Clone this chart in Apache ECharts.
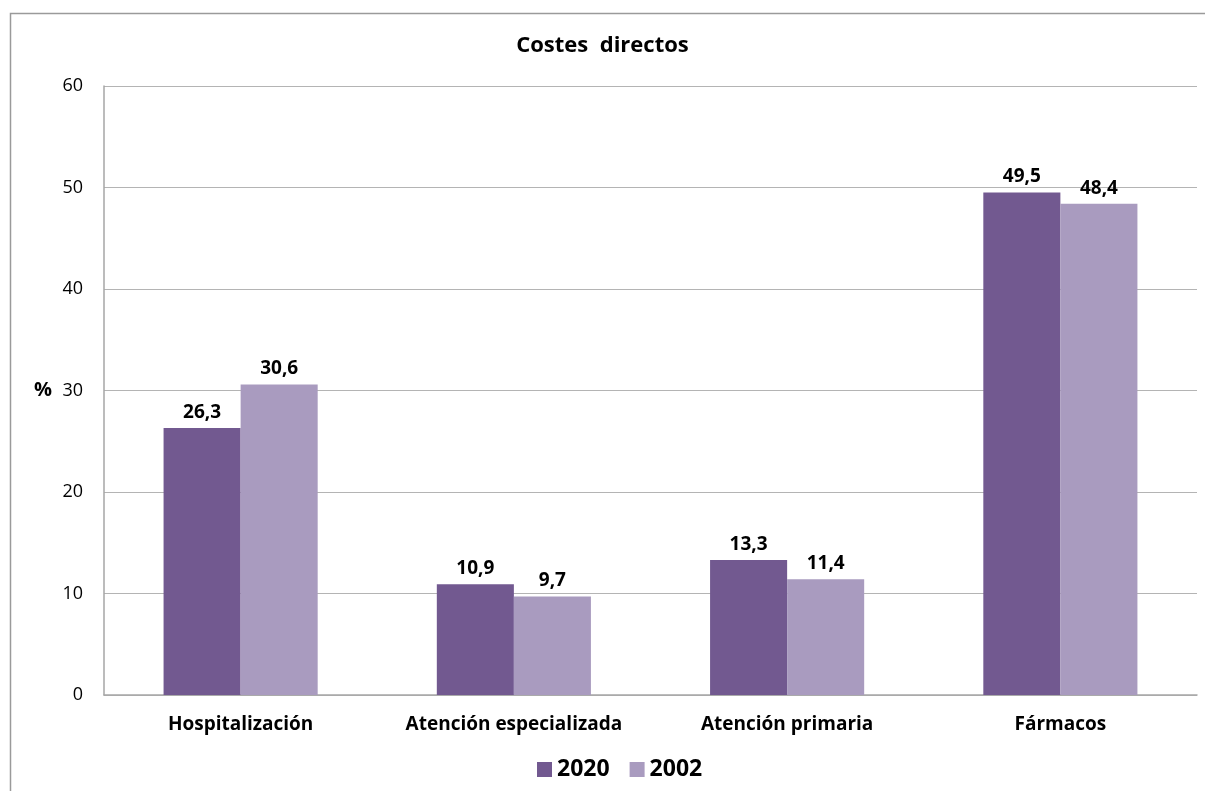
<!DOCTYPE html>
<html>
<head>
<meta charset="utf-8">
<script src="https://cdn.jsdelivr.net/npm/echarts@6/dist/echarts.min.js"></script>
<style>
html,body{margin:0;padding:0;background:#fff;}
#chart{width:1205px;height:791px;}
</style>
</head>
<body>
<div id="chart"></div>
<script>
const categories = ['Hospitalización', 'Atención especializada', 'Atención primaria', 'Fármacos'];
const series2020 = [26.3, 10.9, 13.3, 49.5];
const series2002 = [30.6, 9.7, 11.4, 48.4];
const seriesNames = ['2020', '2002'];

const FONT = '"Open Sans", Lato, sans-serif';
const fmt = p => String(p.value).replace('.', ',');

const chart = echarts.init(document.getElementById('chart'));
chart.setOption({
  animation: false,
  backgroundColor: '#ffffff',
  textStyle: { fontFamily: FONT },
  graphic: [{
    type: 'rect',
    shape: { x: 10.5, y: 13.5, width: 1400, height: 1000 },
    style: { fill: 'none', stroke: '#9a9a9a', lineWidth: 1.5 },
    silent: true, z: -10
  }],
  title: {
    text: 'Costes  directos',
    left: 'center',
    top: 30,
    textStyle: { fontFamily: FONT, fontWeight: 'bold', fontSize: 22, color: '#000' }
  },
  legend: {
    bottom: 5,
    left: 532,
    itemWidth: 15,
    itemHeight: 15,
    itemGap: 20,
    icon: 'rect',
    textStyle: { fontFamily: FONT, fontWeight: 'bold', fontSize: 23, color: '#000' },
    data: seriesNames
  },
  grid: { left: 104, right: 8, top: 86, bottom: 96 },
  xAxis: {
    type: 'category',
    data: categories,
    axisLine: { show: true, lineStyle: { color: '#a6a6a6', width: 1.5 } },
    axisTick: { show: false },
    axisLabel: { interval: 0, hideOverlap: false, fontFamily: FONT, fontWeight: 'bold', fontSize: 19, color: '#000', margin: 20 }
  },
  yAxis: {
    type: 'value',
    min: 0, max: 60, interval: 10,
    name: '%',
    nameLocation: 'middle',
    nameRotate: 0,
    nameGap: 52,
    nameTextStyle: { fontFamily: FONT, fontWeight: 'bold', fontSize: 20, color: '#000', align: 'right' },
    axisLine: { show: true, lineStyle: { color: '#a6a6a6', width: 1.5 } },
    axisTick: { show: false },
    splitLine: { show: true, lineStyle: { color: '#b4b4b4', width: 1.2 } },
    axisLabel: { fontFamily: FONT, fontSize: 18, color: '#000', margin: 21 }
  },
  series: [
    {
      name: seriesNames[0], type: 'bar', data: series2020,
      barGap: '0%', barCategoryGap: '43.6%',
      itemStyle: { color: '#725990' },
      label: { show: true, position: 'top', distance: 6, formatter: fmt,
        fontFamily: FONT, fontWeight: 'bold', fontSize: 19, color: '#000' }
    },
    {
      name: seriesNames[1], type: 'bar', data: series2002,
      barGap: '0%', barCategoryGap: '43.6%',
      itemStyle: { color: '#a99bbf' },
      label: { show: true, position: 'top', distance: 6, formatter: fmt,
        fontFamily: FONT, fontWeight: 'bold', fontSize: 19, color: '#000' }
    }
  ]
});
</script>
</body>
</html>
